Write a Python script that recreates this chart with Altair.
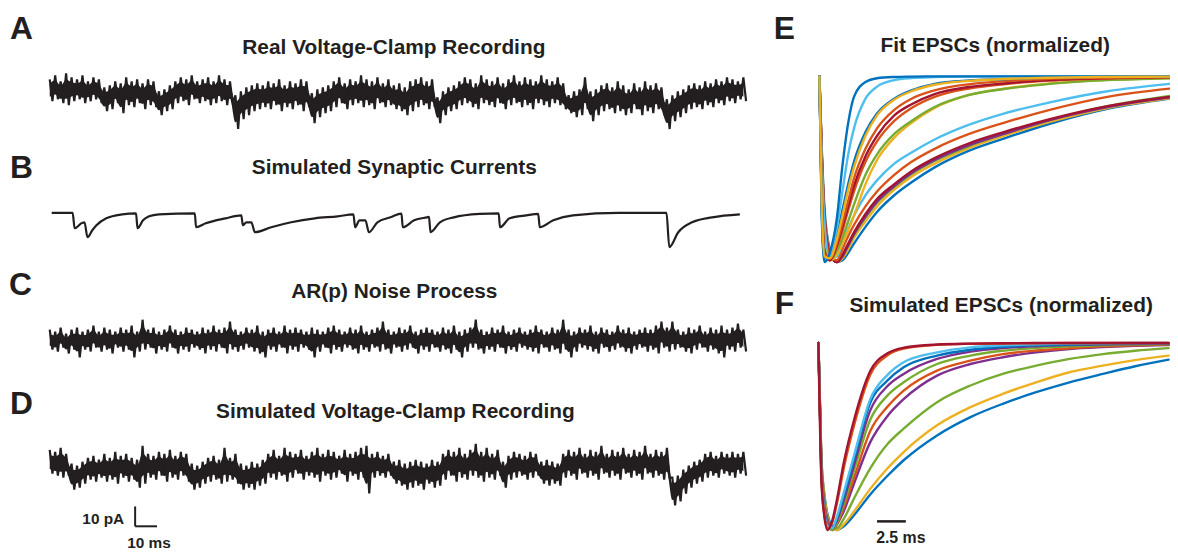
import altair as alt
import pandas as pd

INK = "#231f20"
FONT = "Liberation Sans"
W, H = 1170, 543

# ---------------- left traces (time in ms, current in pA) ----------------
T_STEP = 2.5  # ms between envelope columns

A_HI = [6, 8, 5, 9, 7, 6, 8, 5, 7, 6,
        2, 3, 5, 4, 7, 5, 6, 4, 6, 5,
        0, 1, 3, 5, 7, 6, 8, 5, 6, 7,
        5, 8, 6, 5, -2, 0, 2, 3, 4, 3,
        5, 4, 6, 3, 5, 4, 6, 5, -1, 1,
        2, 3, 5, 7, 4, 6, 5, 8, 6, 5,
        7, 4, 6, 3, 4, 2, 5, 6, 7, 5,
        6, -3, 0, 2, 3, 5, 7, 6, 4, 8,
        6, 5, 7, 4, 6, 8, 5, 7, 6, 5,
        8, 6, 5, 7, 4, -2, 0, 1, 7, 0,
        1, 3, 4, 2, 5, 3, 1, 4, 2, 5,
        3, 4, 2, -4, -2, 0, 1, 3, 4, 3,
        5, 4, 6, 5, 7, 6, 5, 7]
A_LO = [-5, -4, -6, -7, -5, -4, -6, -5, -4, -6,
        -10, -9, -6, -11, -7, -8, -6, -9, -7, -8,
        -12, -10, -9, -6, -5, -7, -4, -6, -5, -7,
        -6, -5, -7, -6, -19, -14, -12, -10, -9, -8,
        -9, -7, -10, -8, -9, -7, -10, -8, -16, -13,
        -11, -10, -8, -6, -9, -7, -6, -8, -7, -9,
        -6, -8, -7, -9, -10, -12, -10, -8, -7, -9,
        -8, -16, -12, -10, -9, -7, -6, -8, -9, -6,
        -7, -8, -6, -9, -7, -6, -8, -7, -9, -6,
        -7, -8, -6, -7, -9, -11, -13, -12, -9, -15,
        -12, -10, -9, -11, -10, -12, -11, -9, -12, -10,
        -11, -9, -12, -19, -15, -13, -11, -9, -8, -9,
        -7, -8, -6, -7, -5, -6, -4, -5]

B_T = [0.9, 10.5, 11.4, 14.5, 15.9, 17.3, 19.5, 21.4, 25.9, 33.2, 39.5, 40.2, 42.7, 45.5, 50,
       66.4, 67, 71.4, 80.5, 87.7, 88.4, 90, 92.3, 93.9, 101.4, 110.5, 121.4, 131.8, 139, 139.8,
       141.8, 144.5, 146.1, 150, 156, 161, 161.6, 166.8, 172.7, 173.6, 174.3, 178.6, 185, 196.8,
       205.5, 206.1, 210.5, 218.2, 223.6, 224.3, 230.5, 239.5, 260.5, 282.3, 283.6, 287.7, 294,
       303.2, 315.9]
B_V = [0, 0, -7.7, -5.2, -4.7, -12.2, -8.7, -6.2, -2.7, -0.7, -0.2, -7.7, -3.7, -1.7, -0.7,
       -0.2, -7.2, -5.2, -2.7, -1.2, -6.2, -4.7, -4.7, -9.7, -7.2, -4.7, -2.7, -1.7, -0.7, -7.2,
       -3.7, -3.7, -9.7, -4.7, -2.2, -0.3, -7.2, -3.7, -2.2, -2, -9.7, -4.7, -2.2, -0.5,
       -0.2, -7.2, -2.7, -1.2, -0.5, -7.2, -3.7, -1.2, 0, 0, -17.2, -9.7, -4.7,
       -2.2, -0.7]

C_HI = [5, 4, 6, 3, 5, 6, 4, 5, 7, 4,
        6, 5, 4, 6, 5, 7, 4, 10, 5, 6,
        4, 5, 7, 5, 4, 6, 5, 4, 6, 5,
        7, 5, 6, 9, 5, 4, 6, 5, 7, 4,
        5, 6, 4, 7, 5, 6, 5, 4, 6, 5,
        4, 6, 7, 5, 4, 6, 5, 7, 4, 5,
        6, 9, 5, 4, 6, 5, 7, 4, 5, 6,
        5, 4, 6, 5, 7, 4, 5, 6, 10, 5,
        4, 6, 5, 7, 4, 5, 6, 4, 5, 7,
        5, 4, 6, 5, 10, 5, 4, 6, 5, 7,
        4, 6, 5, 4, 7, 5, 6, 4, 5, 6,
        5, 7, 9, 6, 9, 5, 4, 6, 5, 7,
        4, 6, 5, 7, 5, 6, 8, 5]
C_LO = [-5, -6, -4, -7, -5, -9, -5, -6, -4, -6,
        -5, -7, -4, -6, -5, -9, -6, -5, -4, -7,
        -5, -6, -4, -7, -5, -6, -4, -5, -7, -5,
        -6, -4, -7, -5, -6, -5, -4, -6, -7, -9,
        -5, -6, -4, -7, -5, -6, -4, -5, -9, -6,
        -4, -7, -5, -6, -4, -5, -7, -5, -6, -4,
        -6, -5, -7, -4, -6, -5, -4, -7, -5, -6,
        -4, -6, -5, -7, -5, -9, -6, -4, -5, -7,
        -5, -6, -4, -7, -5, -6, -4, -5, -6, -7,
        -4, -6, -5, -7, -5, -9, -6, -4, -5, -6,
        -7, -4, -6, -5, -4, -6, -7, -5, -4, -6,
        -5, -7, -4, -6, -5, -4, -6, -7, -5, -4,
        -6, -5, -7, -9, -5, -6, -4, -6]

D_HI = [8, 7, 9, 6, 1, 0, 2, 4, 5, 3,
        6, 4, 7, 5, 6, 4, 3, 10, 6, 5,
        7, 6, 8, 5, 7, 6, 1, 0, 2, 4,
        5, 3, 9, 4, 6, 1, 0, 2, 1, 3,
        6, 8, 5, 9, 7, 6, 8, 5, 7, 9,
        6, 8, 7, 5, 8, 6, 7, 9, 10, 6,
        7, 5, 6, 2, 3, 1, 2, 3, 2, 1,
        3, 2, 6, 8, 7, 9, 6, 8, 11, 7,
        9, 6, 8, 2, 5, 7, 6, 5, 7, 6,
        2, 3, 2, 1, 6, 8, 7, 9, 6, 8,
        7, 10, 6, 8, 7, 9, 6, 8, 7, 10,
        6, 8, 7, 9, -6, -5, -2, 0, 2, 3,
        6, 7, 5, 7, 6, 7, 6, 7]
D_LO = [-4, -5, -6, -5, -12, -11, -9, -7, -8, -6,
        -8, -7, -9, -6, -8, -7, -11, -9, -6, -7,
        -5, -8, -6, -7, -5, -8, -12, -11, -9, -8,
        -7, -9, -8, -7, -9, -12, -11, -12, -10, -9,
        -6, -7, -5, -8, -6, -4, -7, -5, -6, -8,
        -5, -7, -6, -4, -8, -5, -7, -6, -14, -6,
        -5, -6, -5, -9, -10, -12, -11, -10, -12, -9,
        -11, -10, -7, -5, -8, -6, -7, -5, -6, -8,
        -6, -7, -5, -11, -7, -6, -5, -7, -6, -5,
        -9, -10, -9, -10, -6, -5, -7, -4, -6, -5,
        -7, -4, -6, -5, -7, -4, -6, -5, -7, -4,
        -6, -5, -7, -6, -20, -18, -14, -11, -9, -8,
        -6, -5, -6, -4, -5, -6, -4, -5]

# scale bar (left): 10 ms x 10 pA
SB_T, SB_PA = 39.1, -30.5
SB_MS, SB_AMP = 10, 10

# ---------------- right panels (time in ms, normalized current) ----------------
MATLAB = {"blue": "#0072BD", "orange": "#D95319", "yellow": "#EDB120", "purple": "#7E2F8E",
          "green": "#77AC30", "cyan": "#4DBEEE", "red": "#A2142F"}

T_E = [0, 0.2, 0.45, 0.9, 1.5, 2.0, 2.5, 3.0, 4.0, 5.0, 6.5, 8, 10, 13, 16, 20, 25, 30.4]
E_CURVES = [
    ("blue",   [0, -0.38, -0.72, -0.93, -1.0, -0.99, -0.95, -0.9, -0.81, -0.73, -0.64, -0.57, -0.49, -0.4, -0.335, -0.255, -0.175, -0.12]),
    ("yellow", [0, -0.4, -0.74, -0.94, -1.0, -0.98, -0.93, -0.87, -0.78, -0.7, -0.61, -0.54, -0.47, -0.385, -0.32, -0.245, -0.17, -0.118]),
    ("green",  [0, -0.41, -0.75, -0.95, -1.0, -0.97, -0.915, -0.855, -0.76, -0.68, -0.595, -0.525, -0.455, -0.375, -0.31, -0.235, -0.16, -0.105]),
    ("purple", [0, -0.41, -0.75, -0.95, -1.0, -0.97, -0.91, -0.85, -0.755, -0.675, -0.59, -0.52, -0.45, -0.37, -0.31, -0.235, -0.165, -0.112]),
    ("red",    [0, -0.42, -0.76, -0.96, -1.0, -0.96, -0.9, -0.84, -0.74, -0.66, -0.58, -0.51, -0.44, -0.36, -0.3, -0.23, -0.16, -0.11]),
    ("orange", [0, -0.43, -0.78, -0.97, -0.99, -0.93, -0.86, -0.8, -0.7, -0.62, -0.53, -0.46, -0.39, -0.31, -0.25, -0.18, -0.11, -0.066]),
    ("cyan",   [0, -0.45, -0.8, -0.98, -0.97, -0.9, -0.82, -0.75, -0.64, -0.56, -0.47, -0.41, -0.34, -0.26, -0.2, -0.14, -0.08, -0.04]),
    ("yellow", [0, -0.6, -0.92, -0.99, -0.96, -0.9, -0.83, -0.75, -0.58, -0.45, -0.33, -0.25, -0.17, -0.1, -0.066, -0.038, -0.019, -0.009]),
    ("green",  [0, -0.62, -0.93, -0.99, -0.94, -0.87, -0.78, -0.69, -0.53, -0.42, -0.31, -0.24, -0.165, -0.1, -0.068, -0.04, -0.02, -0.01]),
    ("orange", [0, -0.64, -0.94, -0.99, -0.92, -0.83, -0.72, -0.62, -0.46, -0.35, -0.24, -0.17, -0.11, -0.065, -0.042, -0.023, -0.011, -0.005]),
    ("red",    [0, -0.65, -0.95, -0.99, -0.91, -0.81, -0.7, -0.59, -0.43, -0.32, -0.21, -0.15, -0.095, -0.057, -0.038, -0.02, -0.009, -0.004]),
    ("orange", [0, -0.66, -0.96, -0.98, -0.9, -0.79, -0.67, -0.55, -0.39, -0.28, -0.18, -0.12, -0.075, -0.042, -0.026, -0.013, -0.006, -0.003]),
    ("blue",   [0, -0.7, -0.98, -0.97, -0.86, -0.72, -0.58, -0.46, -0.3, -0.2, -0.12, -0.075, -0.04, -0.022, -0.015, -0.006, -0.002, 0]),
    ("cyan",   [0, -0.72, -0.99, -0.96, -0.82, -0.62, -0.42, -0.28, -0.12, -0.055, -0.02, -0.009, -0.004, -0.001, 0, 0, 0, 0]),
    ("blue",   [0, -0.75, -1.0, -0.95, -0.77, -0.48, -0.25, -0.11, -0.03, -0.01, -0.003, -0.001, 0, 0, 0, 0, 0, 0]),
    ("yellow", [0, -0.68, -0.97, -0.98, -0.88, -0.75, -0.61, -0.49, -0.32, -0.21, -0.125, -0.08, -0.045, -0.024, -0.014, -0.007, -0.003, -0.001]),
]

T_F = [0, 0.25, 0.5, 0.8, 1.2, 1.6, 2.2, 3.1, 4.5, 6, 7.4, 10.3, 13.2, 16, 18.9, 21.8, 24.7, 27.5, 30.4]
F_CURVES = [
    ("blue",   [0, -0.6, -0.8, -0.92, -0.98, -1.0, -0.98, -0.92, -0.81, -0.71, -0.627, -0.494, -0.396, -0.325, -0.263, -0.21, -0.165, -0.124, -0.089]),
    ("yellow", [0, -0.61, -0.81, -0.93, -0.99, -1.0, -0.97, -0.9, -0.78, -0.67, -0.583, -0.44, -0.343, -0.272, -0.21, -0.156, -0.121, -0.091, -0.067]),
    ("green",  [0, -0.62, -0.83, -0.94, -0.99, -0.99, -0.94, -0.83, -0.67, -0.54, -0.458, -0.316, -0.227, -0.165, -0.121, -0.085, -0.059, -0.041, -0.027]),
    ("purple", [0, -0.64, -0.85, -0.95, -1.0, -0.97, -0.9, -0.75, -0.53, -0.39, -0.3, -0.174, -0.112, -0.076, -0.05, -0.032, -0.022, -0.015, -0.011]),
    ("orange", [0, -0.64, -0.86, -0.96, -1.0, -0.97, -0.88, -0.72, -0.47, -0.34, -0.254, -0.147, -0.094, -0.059, -0.04, -0.028, -0.018, -0.012, -0.007]),
    ("green",  [0, -0.66, -0.87, -0.97, -1.0, -0.96, -0.86, -0.68, -0.41, -0.28, -0.21, -0.112, -0.067, -0.041, -0.027, -0.018, -0.012, -0.008, -0.005]),
    ("purple", [0, -0.67, -0.88, -0.97, -0.99, -0.95, -0.84, -0.65, -0.36, -0.23, -0.165, -0.085, -0.046, -0.027, -0.017, -0.011, -0.007, -0.005, -0.003]),
    ("blue",   [0, -0.68, -0.89, -0.98, -0.99, -0.94, -0.82, -0.62, -0.32, -0.2, -0.13, -0.067, -0.036, -0.02, -0.012, -0.008, -0.005, -0.003, -0.002]),
    ("cyan",   [0, -0.69, -0.9, -0.98, -0.99, -0.93, -0.8, -0.6, -0.3, -0.17, -0.103, -0.05, -0.023, -0.012, -0.006, -0.003, -0.001, 0, 0]),
    ("orange", [0, -0.7, -0.91, -0.99, -0.96, -0.86, -0.67, -0.44, -0.17, -0.065, -0.03, -0.01, -0.004, -0.002, -0.001, 0, 0, 0, 0]),
    ("red",    [0, -0.72, -0.92, -1.0, -0.95, -0.84, -0.64, -0.41, -0.15, -0.055, -0.025, -0.008, -0.003, -0.001, 0, 0, 0, 0, 0]),
]
SBF_T, SBF_Y, SBF_MS = 5.09, -0.954, 2.5

# ---------------- helpers ----------------
XL = dict(domain=[0, 317.3], range=[42, 740], nice=False, zero=False)


def sc(domain, rng):
    return alt.Scale(domain=domain, range=rng, nice=False, zero=False)


def noisy(hi, lo, ydom, yrng):
    # dense core of the trace plus its swings out to the upper/lower excursion of each column
    n = len(hi)
    core = pd.DataFrame({"t": [T_STEP * i for i in range(n)], "hi": hi, "lo": lo})
    zig = []
    for i, (h, l) in enumerate(zip(hi, lo)):
        zig.append({"t": T_STEP * i, "v": h})
        zig.append({"t": T_STEP * i + T_STEP / 2, "v": l})
    zig = pd.DataFrame(zig)
    x = alt.X("t:Q", scale=alt.Scale(**XL), axis=None)
    fill = alt.Chart(core).transform_calculate(
        c_hi="datum.hi - 0.2 * (datum.hi - datum.lo)",
        c_lo="datum.lo + 0.2 * (datum.hi - datum.lo)",
    ).mark_area(interpolate="monotone", color=INK).encode(
        x=x, y=alt.Y("c_hi:Q", scale=sc(ydom, yrng), axis=None), y2="c_lo:Q"
    )
    swing = alt.Chart(zig).mark_line(
        interpolate="linear", color=INK, strokeWidth=2.2, strokeJoin="miter", strokeMiterLimit=2
    ).encode(x=x, y=alt.Y("v:Q", scale=sc(ydom, yrng), axis=None), order="t:Q")
    return [fill, swing]


def curves(tgrid, spec, xdom, xrng, ydom, yrng):
    rows = []
    for k, (cname, vals) in enumerate(spec):
        for t, v in zip(tgrid, vals):
            rows.append({"id": f"c{k:02d}", "col": MATLAB[cname], "t": t, "v": v})
    df = pd.DataFrame(rows)
    return alt.Chart(df).mark_line(interpolate="monotone", strokeWidth=2.4, strokeCap="round").encode(
        x=alt.X("t:Q", scale=sc(xdom, xrng), axis=None),
        y=alt.Y("v:Q", scale=sc(ydom, yrng), axis=None),
        color=alt.Color("col:N", scale=None),
        detail="id:N",
    )


def label(s, x, y, size, align="center", baseline="alphabetic"):
    return alt.Chart(pd.DataFrame({"s": [s]})).mark_text(
        font=FONT, fontWeight="bold", fontSize=size, align=align, baseline=baseline, color=INK
    ).encode(text="s:N", x=alt.value(x), y=alt.value(y))


A_Y = ([-20, 10], [122, 62])
B_Y = ([-20, 5], [244.5, 194.5])
C_Y = ([-10, 10], [352, 312])
D_Y = ([-35, 10], [529, 439])

trace_b = alt.Chart(pd.DataFrame({"t": B_T, "v": B_V})).mark_line(
    interpolate="monotone", color=INK, strokeWidth=2.2
).encode(
    x=alt.X("t:Q", scale=alt.Scale(**XL), axis=None),
    y=alt.Y("v:Q", scale=sc(*B_Y), axis=None),
)

sb_df = pd.DataFrame({
    "t": [SB_T, SB_T], "t2": [SB_T + SB_MS, SB_T],
    "y": [SB_PA, SB_PA], "y2": [SB_PA, SB_PA + SB_AMP],
})
scalebar_left = alt.Chart(sb_df).mark_rule(color=INK, strokeWidth=2).encode(
    x=alt.X("t:Q", scale=alt.Scale(**XL), axis=None), x2="t2:Q",
    y=alt.Y("y:Q", scale=sc(*D_Y), axis=None), y2="y2:Q",
)

E_X = ([0, 30.4], [817, 1169.6])
E_YS = ([-1, 0], [254, 67])
F_X = ([0, 30.4], [816, 1168.6])
F_YS = ([-1, 0], [523.7, 335.5])

sbf_df = pd.DataFrame({"t": [SBF_T], "t2": [SBF_T + SBF_MS], "y": [SBF_Y], "y2": [SBF_Y]})
scalebar_f = alt.Chart(sbf_df).mark_rule(color=INK, strokeWidth=2.5).encode(
    x=alt.X("t:Q", scale=sc(*F_X), axis=None), x2="t2:Q",
    y=alt.Y("y:Q", scale=sc(*F_YS), axis=None), y2="y2:Q",
)

LET = 32
TTL = 21
layers = [
    *noisy(A_HI, A_LO, *A_Y),
    trace_b,
    *noisy(C_HI, C_LO, *C_Y),
    *noisy(D_HI, D_LO, *D_Y),
    scalebar_left,
    curves(T_E, E_CURVES, *E_X, *E_YS),
    curves(T_F, F_CURVES, *F_X, *F_YS),
    scalebar_f,
    label("A", 2, 29.5, LET, "left"),
    label("B", 2, 169, LET, "left"),
    label("C", 1, 287, LET, "left"),
    label("D", 2, 407, LET, "left"),
    label("E", 771, 29.5, LET, "left"),
    label("F", 772, 306, LET, "left"),
    label("Real Voltage-Clamp Recording", 388.5, 44, TTL),
    label("Simulated Synaptic Currents", 389, 165, TTL),
    label("AR(p) Noise Process", 389, 290, TTL),
    label("Simulated Voltage-Clamp Recording", 390, 411, TTL),
    label("Fit EPSCs (normalized)", 994, 42, TTL),
    label("Simulated EPSCs (normalized)", 1000, 304, TTL),
    label("10 pA", 117, 513, 15.5, "right", "middle"),
    label("10 ms", 142, 537, 15.5, "center", "middle"),
    label("2.5 ms", 899, 532, 16, "center", "middle"),
]

chart = alt.layer(*layers).resolve_scale(x="independent", y="independent").properties(
    width=W, height=H, padding=0, autosize="none"
).configure_view(stroke=None)

chart.save("out.html", embed_options={"renderer": "svg", "actions": False})
